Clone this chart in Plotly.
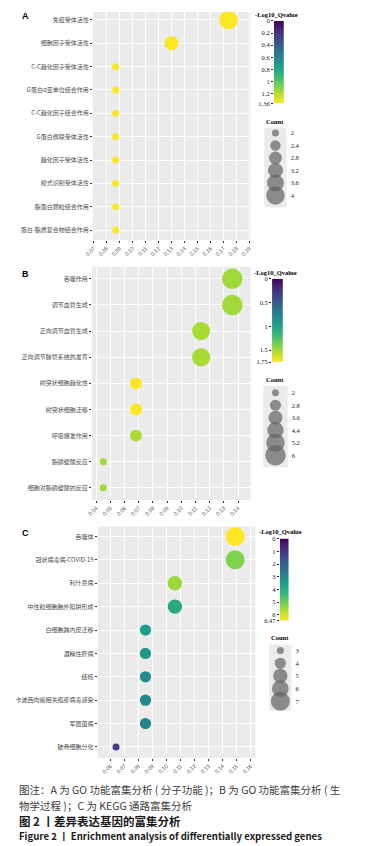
import numpy as np
import plotly.graph_objects as go

# page body has an 8px margin: figure is sized to fit the window exactly
OFF = 8
W, H = 385 - OFF, 846 - OFF

# ---------------- data ----------------
A_terms = ["免疫受体活性", "细胞因子受体活性", "C-C趋化因子受体活性", "G蛋白α亚单位结合作用",
           "C-C趋化因子结合作用", "G蛋白偶联受体活性", "趋化因子受体活性", "模式识别受体活性",
           "脂蛋白颗粒结合作用", "蛋白-脂质复合物结合作用"]
A_ratio = [0.174, 0.130, 0.087, 0.087, 0.087, 0.087, 0.087, 0.087, 0.087, 0.087]
A_count = [4, 3, 2, 2, 2, 2, 2, 2, 2, 2]
A_logq = [1.36, 1.36, 1.36, 1.36, 1.36, 1.36, 1.36, 1.36, 1.36, 1.36]
A_xticks = [0.07, 0.08, 0.09, 0.10, 0.11, 0.12, 0.13, 0.14, 0.15, 0.16, 0.17, 0.18, 0.19]
A_cbticks = [0, 0.2, 0.4, 0.6, 0.8, 1.0, 1.2, 1.36]
A_cbtext = ["0", "0.2", "0.4", "0.6", "0.8", "1", "1.2", "1.36"]
A_legend_counts = [2, 2.4, 2.8, 3.2, 3.6, 4]

B_terms = ["吞噬作用", "调节血管生成", "正向调节血管生成", "正向调节脉管系统的发育",
           "树突状细胞趋化性", "树突状细胞迁移", "呼吸爆发作用", "脂磷壁酸反应",
           "细胞对脂磷壁酸的反应"]
B_ratio = [0.136, 0.136, 0.114, 0.114, 0.068, 0.068, 0.068, 0.045, 0.045]
B_count = [6, 6, 5, 5, 3, 3, 3, 2, 2]
B_logq = [1.50, 1.50, 1.52, 1.52, 1.75, 1.75, 1.52, 1.50, 1.50]
B_xticks = [0.04, 0.05, 0.06, 0.07, 0.08, 0.09, 0.10, 0.11, 0.12, 0.13, 0.14]
B_cbticks = [0, 0.5, 1.0, 1.5, 1.75]
B_cbtext = ["0", "0.5", "1", "1.5", "1.75"]
B_legend_counts = [2, 2.8, 3.6, 4.4, 5.2, 6]

C_terms = ["吞噬体", "冠状病毒病-COVID-19", "利什曼病", "中性粒细胞胞外陷阱形成",
           "白细胞跨内皮迁移", "酒精性肝病", "结核", "卡波西肉瘤相关疱疹病毒感染",
           "军团菌病", "破骨细胞分化"]
C_ratio = [0.149, 0.149, 0.106, 0.106, 0.085, 0.085, 0.085, 0.085, 0.085, 0.064]
C_count = [7, 7, 5, 5, 4, 4, 4, 4, 4, 3]
C_logq = [6.47, 5.2, 5.5, 3.9, 3.55, 3.4, 3.1, 3.05, 2.9, 1.2]
C_xticks = [0.06, 0.07, 0.08, 0.09, 0.10, 0.11, 0.12, 0.13, 0.14, 0.15, 0.16]
C_cbticks = [0, 1, 2, 3, 4, 5, 6, 6.47]
C_cbtext = ["0", "1", "2", "3", "4", "5", "6", "6.47"]
C_legend_counts = [3, 4, 5, 6, 7]

caption1 = "图注：A 为 GO 功能富集分析 ( 分子功能 )；B 为 GO 功能富集分析 ( 生"
caption2 = "物学过程 )；C 为 KEGG 通路富集分析"
caption3 = "图 2 丨差异表达基因的富集分析"
caption4 = "Figure 2 丨 Enrichment analysis of differentially expressed genes"

# ---------------- layout helpers (screen px -> paper) ----------------
def clamp(v):
    return min(1.0, max(0.0, v))

def xd(a, b):
    return [clamp((a - OFF) / W), clamp((b - OFF) / W)]

def yd(top, bottom):
    return [clamp(1 - (bottom - OFF) / H), clamp(1 - (top - OFF) / H)]

def px(x):
    return (x - OFF) / W

def py(y):
    return 1 - (y - OFF) / H

CJK = "Noto Sans CJK SC"
SERIF = "Liberation Serif"
SANS = "Liberation Sans"

panels = [
    dict(letter="A", terms=A_terms, ratio=A_ratio, count=A_count, logq=A_logq,
         xticks=A_xticks, xrange=[0.0695, 0.191], box=(86, 248, 8, 238), pad=(0.34, 0.43),
         cbmax=1.36, cbticks=A_cbticks, cbtext=A_cbtext, cb=(272, 282, 17, 100),
         cbtitle=(275, 11), leg=A_legend_counts, legbox=(262, 285, 125, 205), legpad=(0.4, 0.95),
         legtitle=(273, 118), dmin=7, dmax=18.5, letterpos=(17, 12)),
    dict(letter="B", terms=B_terms, ratio=B_ratio, count=B_count, logq=B_logq,
         xticks=B_xticks, xrange=[0.0370, 0.1489], box=(85, 248, 265, 500), pad=(0.46, 0.46),
         cbmax=1.75, cbticks=B_cbticks, cbtext=B_cbtext, cb=(270, 281, 277, 361),
         cbtitle=(274, 271), leg=B_legend_counts, legbox=(261, 286, 385, 467), legpad=(0.55, 0.95),
         legtitle=(273, 379), dmin=7, dmax=20.5, letterpos=(17, 272)),
    dict(letter="C", terms=C_terms, ratio=C_ratio, count=C_count, logq=C_logq,
         xticks=C_xticks, xrange=[0.051, 0.1635], box=(91, 253, 527, 760), pad=(0.42, 0.46),
         cbmax=6.47, cbticks=C_cbticks, cbtext=C_cbtext, cb=(278, 287, 539, 622),
         cbtitle=(279, 532), leg=C_legend_counts, legbox=(267, 290, 646, 713), legpad=(0.47, 0.78),
         legtitle=(278, 639), dmin=7, dmax=19, letterpos=(17, 533)),
]

def diam(c, cmin, cmax, dmin, dmax):
    c = np.asarray(c, dtype=float)
    t = (c - cmin) / (cmax - cmin)
    return np.sqrt(dmin ** 2 + (dmax ** 2 - dmin ** 2) * t)

fig = go.Figure()
layout = dict(width=W, height=H, margin=dict(l=0, r=0, t=0, b=0),
              paper_bgcolor="white", plot_bgcolor="#EBEBEB", showlegend=False)
annotations = []

ax = 0
for p in panels:
    cmin, cmax = min(p["leg"]), max(p["leg"])
    # ---- main bubble plot ----
    ax += 1
    n = len(p["terms"])
    l, r, t, b = p["box"]
    fig.add_trace(go.Scatter(
        x=p["ratio"], y=p["terms"], mode="markers",
        marker=dict(size=diam(p["count"], cmin, cmax, p["dmin"], p["dmax"]),
                    color=p["logq"], colorscale="Viridis", cmin=0, cmax=p["cbmax"],
                    showscale=False, line=dict(width=0), opacity=1),
        xaxis=f"x{ax}", yaxis=f"y{ax}", hoverinfo="skip"))
    layout[f"xaxis{ax}"] = dict(domain=xd(l, r), anchor=f"y{ax}", range=p["xrange"],
                                tickvals=p["xticks"], ticktext=[f"{v:.2f}" for v in p["xticks"]],
                                tickangle=-45, ticks="outside", ticklen=2, tickcolor="#333333",
                                tickfont=dict(family=SANS, size=5.5, color="#4D4D4D"),
                                showgrid=True, gridcolor="white", gridwidth=1, zeroline=False,
                                showline=False)
    layout[f"yaxis{ax}"] = dict(domain=yd(t, b), anchor=f"x{ax}", type="category",
                                categoryorder="array", categoryarray=p["terms"],
                                range=[n - 1 + p["pad"][1], -p["pad"][0]],
                                ticks="outside", ticklen=2, tickcolor="#333333",
                                tickfont=dict(family=CJK, size=6, color="#4D4D4D"),
                                showgrid=True, gridcolor="white", gridwidth=1, zeroline=False)
    annotations.append(dict(text=f"<b>{p['letter']}</b>", x=px(p["letterpos"][0]),
                            y=py(p["letterpos"][1]), xref="paper", yref="paper",
                            showarrow=False, xanchor="center", yanchor="middle",
                            font=dict(family=SANS, size=9, color="black")))

    # ---- colour bar drawn as a heatmap ----
    ax += 1
    cl, cr, ct, cbt = p["cb"]
    edges = np.linspace(0, p["cbmax"], 201)
    centers = (edges[:-1] + edges[1:]) / 2
    fig.add_trace(go.Heatmap(
        z=[[v] for v in centers], x=[0, 1], y=edges, colorscale="Viridis",
        zmin=0, zmax=p["cbmax"], showscale=False, hoverinfo="skip",
        xaxis=f"x{ax}", yaxis=f"y{ax}"))
    layout[f"xaxis{ax}"] = dict(domain=xd(cl, cr), anchor=f"y{ax}", range=[0, 1],
                                visible=False, fixedrange=True)
    layout[f"yaxis{ax}"] = dict(domain=yd(ct, cbt), anchor=f"x{ax}", range=[p["cbmax"], 0],
                                tickvals=p["cbticks"], ticktext=p["cbtext"], side="left",
                                ticks="outside", ticklen=2, tickcolor="#222222",
                                tickfont=dict(family=SERIF, size=6.5, color="#222222"),
                                showgrid=False, zeroline=False, showline=False)
    annotations.append(dict(text="<b>-Log10_Qvalue</b>", x=px(p["cbtitle"][0]),
                            y=py(p["cbtitle"][1]), xref="paper", yref="paper",
                            showarrow=False, xanchor="center", yanchor="middle",
                            font=dict(family=SERIF, size=6.5, color="black")))

    # ---- size legend ----
    ax += 1
    ll, lr, lt, lb = p["legbox"]
    k = len(p["leg"])
    idx = list(range(k))
    fig.add_trace(go.Scatter(
        x=[0.5] * k, y=idx, mode="markers",
        marker=dict(size=diam(p["leg"], cmin, cmax, p["dmin"], p["dmax"]),
                    color="#636363", line=dict(width=0)),
        xaxis=f"x{ax}", yaxis=f"y{ax}", hoverinfo="skip"))
    layout[f"xaxis{ax}"] = dict(domain=xd(ll, lr), anchor=f"y{ax}", range=[0, 1],
                                showticklabels=False, showgrid=False, zeroline=False, ticks="")
    layout[f"yaxis{ax}"] = dict(domain=yd(lt, lb), anchor=f"x{ax}",
                                range=[k - 1 + p["legpad"][1], -p["legpad"][0]],
                                side="right", tickvals=idx,
                                ticktext=[f"{v:g}" for v in p["leg"]],
                                ticks="", ticklabelstandoff=3,
                                tickfont=dict(family=SERIF, size=6.5, color="#222222"),
                                showgrid=False, zeroline=False)
    annotations.append(dict(text="<b>Count</b>", x=px(p["legtitle"][0]),
                            y=py(p["legtitle"][1]), xref="paper", yref="paper",
                            showarrow=False, xanchor="center", yanchor="middle",
                            font=dict(family=SERIF, size=6.5, color="black")))

# ---------------- caption ----------------
caps = [(caption1, 792, 10.5, False, "#3C3C3C"),
        (caption2, 808, 10.5, False, "#3C3C3C"),
        (caption3, 824, 11.5, True, "#1A1A1A"),
        (caption4, 839, 9.6, True, "#1A1A1A")]
for txt, yy, fs, bold, col in caps:
    annotations.append(dict(text=f"<b>{txt}</b>" if bold else txt, x=px(8), y=py(yy),
                            xref="paper", yref="paper", showarrow=False,
                            xanchor="left", yanchor="middle",
                            font=dict(family=CJK, size=fs, color=col)))

layout["annotations"] = annotations
fig.update_layout(**layout)
fig.write_html("out.html")
